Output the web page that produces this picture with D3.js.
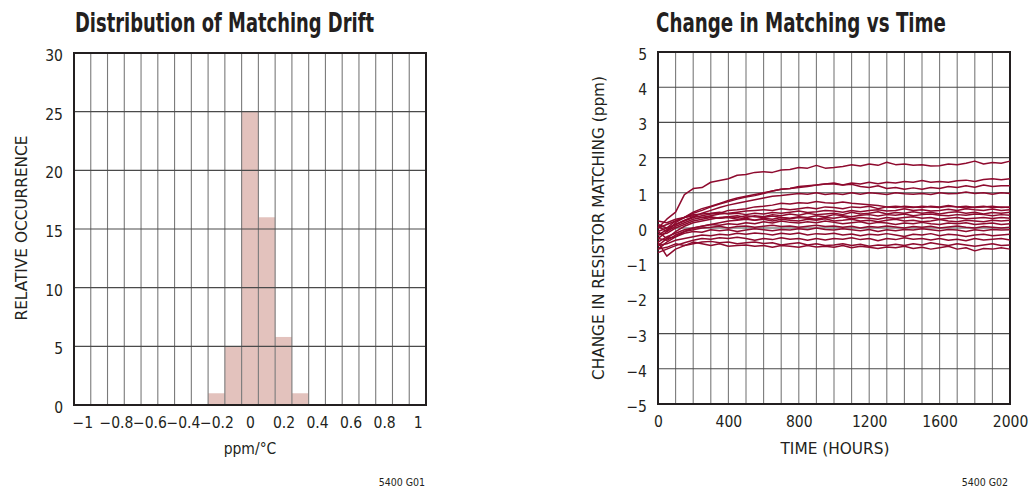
<!DOCTYPE html>
<html>
<head>
<meta charset="utf-8">
<script src="https://cdn.jsdelivr.net/npm/d3@7"></script>
<style>
  body{margin:0;background:#fff;}
  svg{display:block;}
  text{font-family:"Liberation Sans Narrow","DejaVu Sans Condensed","Arial Narrow",sans-serif;fill:#231f20;}
  .title{font-weight:bold;font-size:26px;}
</style>
</head>
<body>
<div id="chart"></div>
<script>
// ---- left panel: distribution of matching drift ----
let binCenters=[-0.2,-0.1,0,0.1,0.2,0.3];
let binCounts=[1,5,25,16,5.8,1];
let driftTicks=[-1,-0.8,-0.6,-0.4,-0.2,0,0.2,0.4,0.6,0.8,1];
let occTicks=[0,5,10,15,20,25,30];

// ---- right panel: change in matching vs time ----
let hours=d3.range(0,2001,50);
let hourTicks=[0,400,800,1200,1600,2000];
let ppmTicks=[-5,-4,-3,-2,-1,0,1,2,3,4,5];
let s1=[0.0,0.25,0.45,0.95,1.12,1.15,1.3,1.35,1.4,1.5, 1.52,1.58,1.6,1.58,1.65,1.66,1.72,1.7,1.78,1.7, 1.72,1.75,1.8,1.76,1.82,1.78,1.87,1.8,1.82,1.78, 1.8,1.76,1.77,1.82,1.8,1.84,1.9,1.82,1.86,1.84, 1.9];
let s2=[0.05,-0.1,0.15,0.3,0.45,0.55,0.62,0.7,0.78,0.85, 0.9,0.95,1.0,1.05,1.1,1.12,1.18,1.2,1.22,1.25, 1.25,1.22,1.28,1.25,1.3,1.26,1.3,1.28,1.32,1.3, 1.35,1.3,1.32,1.3,1.34,1.36,1.32,1.38,1.4,1.37, 1.4];
let s3=[0.1,0.0,0.2,0.3,0.42,0.5,0.6,0.68,0.75,0.82, 0.88,0.92,0.98,1.05,1.1,1.12,1.15,1.18,1.22,1.25, 1.28,1.22,1.24,1.18,1.15,1.2,1.12,1.15,1.1,1.14, 1.1,1.15,1.12,1.18,1.15,1.2,1.16,1.22,1.18,1.2, 1.2];
let s4=[-0.2,-0.05,0.1,0.22,0.32,0.42,0.5,0.58,0.65,0.7, 0.75,0.8,0.85,0.9,0.92,0.95,0.98,0.96,1.0,0.95, 0.98,0.95,1.0,0.96,1.0,0.98,0.95,1.0,0.97,0.96, 0.98,0.95,1.0,0.97,0.98,1.02,0.98,1.0,0.96,1.0, 0.98];
let s5=[-0.1,0.0,0.1,0.2,0.3,0.35,0.4,0.42,0.5,0.52, 0.55,0.6,0.62,0.65,0.7,0.68,0.72,0.7,0.75,0.72, 0.7,0.74,0.7,0.68,0.66,0.64,0.6,0.62,0.6,0.58, 0.62,0.6,0.58,0.62,0.6,0.57,0.6,0.62,0.58,0.6, 0.58];
let s6=[-0.3,-0.1,0.05,0.15,0.25,0.3,0.35,0.4,0.42,0.45, 0.48,0.5,0.52,0.5,0.55,0.52,0.55,0.58,0.55,0.6, 0.58,0.55,0.6,0.58,0.62,0.55,0.6,0.58,0.62,0.6, 0.58,0.62,0.6,0.64,0.6,0.62,0.58,0.6,0.62,0.58, 0.6];
let s7=[0.0,0.1,0.2,0.3,0.38,0.4,0.42,0.45,0.4,0.42, 0.38,0.42,0.4,0.44,0.42,0.45,0.48,0.44,0.46,0.5, 0.48,0.45,0.5,0.46,0.5,0.52,0.48,0.5,0.55,0.5, 0.52,0.48,0.5,0.53,0.5,0.55,0.52,0.5,0.54,0.5, 0.52];
let s8=[-0.5,-0.3,-0.1,0.05,0.15,0.2,0.25,0.3,0.32,0.35, 0.3,0.35,0.32,0.38,0.35,0.4,0.36,0.42,0.38,0.4, 0.42,0.38,0.45,0.4,0.42,0.46,0.4,0.44,0.42,0.46, 0.42,0.45,0.4,0.44,0.46,0.42,0.45,0.4,0.44,0.42, 0.45];
let s9=[-0.2,-0.15,0.0,0.1,0.2,0.25,0.3,0.28,0.32,0.3, 0.35,0.32,0.3,0.34,0.3,0.28,0.32,0.3,0.35,0.32, 0.38,0.35,0.32,0.36,0.38,0.34,0.38,0.36,0.4,0.35, 0.38,0.4,0.36,0.35,0.38,0.36,0.4,0.38,0.35,0.38, 0.36];
let s10=[-0.6,-0.4,-0.25,-0.1,0.0,0.05,0.1,0.15,0.2,0.22, 0.25,0.22,0.28,0.25,0.3,0.26,0.3,0.28,0.25,0.3, 0.28,0.32,0.26,0.3,0.28,0.25,0.3,0.27,0.3,0.32, 0.28,0.3,0.25,0.28,0.3,0.26,0.28,0.3,0.27,0.3, 0.28];
let s11=[0.2,0.15,0.25,0.3,0.35,0.3,0.32,0.28,0.3,0.25, 0.28,0.22,0.25,0.2,0.25,0.22,0.2,0.25,0.22,0.26, 0.2,0.22,0.25,0.2,0.22,0.18,0.22,0.25,0.2,0.22, 0.18,0.2,0.24,0.2,0.18,0.22,0.2,0.18,0.22,0.2, 0.22];
let s12=[-0.4,-0.25,-0.15,-0.05,0.0,0.05,0.1,0.08,0.12,0.1, 0.15,0.12,0.18,0.14,0.2,0.16,0.14,0.18,0.15,0.2, 0.16,0.12,0.15,0.18,0.12,0.16,0.14,0.1,0.14,0.12, 0.16,0.12,0.1,0.14,0.12,0.15,0.1,0.12,0.14,0.1, 0.12];
let s13=[-0.3,-0.35,-0.2,-0.1,-0.05,0.0,0.02,0.05,0.0,0.04, 0.06,0.02,0.05,0.08,0.04,0.06,0.02,0.05,0.08,0.04, 0.06,0.02,0.05,0.0,0.04,0.02,0.06,0.03,0.0,0.04, 0.02,0.05,0.0,0.03,0.06,0.02,0.0,0.04,0.02,0.0, 0.02];
let s14=[-0.1,-0.3,-0.25,-0.15,-0.1,-0.12,-0.05,-0.08,-0.05,-0.1, -0.06,-0.02,-0.05,-0.08,-0.04,-0.06,-0.02,-0.05,0.0,-0.04, -0.06,-0.02,-0.05,-0.08,-0.04,-0.1,-0.05,-0.08,-0.04,-0.06, -0.02,-0.05,-0.08,-0.04,-0.06,-0.1,-0.05,-0.08,-0.04,-0.06, -0.05];
let s15=[-0.5,-0.45,-0.35,-0.3,-0.25,-0.2,-0.22,-0.18,-0.2,-0.15, -0.18,-0.14,-0.16,-0.2,-0.15,-0.18,-0.14,-0.2,-0.16,-0.18, -0.15,-0.2,-0.17,-0.22,-0.18,-0.2,-0.16,-0.2,-0.24,-0.18, -0.2,-0.16,-0.22,-0.18,-0.2,-0.24,-0.2,-0.18,-0.22,-0.2, -0.18];
let s16=[-0.7,-0.6,-0.5,-0.42,-0.35,-0.3,-0.32,-0.28,-0.3,-0.26, -0.3,-0.35,-0.3,-0.33,-0.28,-0.32,-0.3,-0.35,-0.3,-0.34, -0.3,-0.32,-0.28,-0.33,-0.3,-0.36,-0.3,-0.33,-0.28,-0.32, -0.3,-0.34,-0.3,-0.35,-0.32,-0.36,-0.3,-0.34,-0.32,-0.3, -0.34];
let s17=[-0.4,-0.8,-0.6,-0.5,-0.45,-0.4,-0.38,-0.42,-0.4,-0.45, -0.42,-0.4,-0.44,-0.42,-0.48,-0.45,-0.42,-0.48,-0.45,-0.5, -0.48,-0.45,-0.5,-0.46,-0.52,-0.48,-0.5,-0.46,-0.5,-0.45, -0.48,-0.42,-0.46,-0.5,-0.45,-0.48,-0.52,-0.48,-0.45,-0.5, -0.48];
let s18=[-0.6,-0.55,-0.45,-0.5,-0.4,-0.45,-0.5,-0.45,-0.52,-0.5, -0.48,-0.52,-0.5,-0.55,-0.5,-0.52,-0.55,-0.5,-0.54,-0.52, -0.55,-0.5,-0.56,-0.52,-0.55,-0.58,-0.54,-0.56,-0.52,-0.58, -0.55,-0.6,-0.56,-0.52,-0.6,-0.56,-0.65,-0.58,-0.6,-0.56, -0.6];
let driftSeries=[s1,s2,s3,s4,s5,s6,s7,s8,s9,s10,s11,s12,s13,s14,s15,s16,s17,s18];

(function(){
    let W=1031,H=489;
    let svg=d3.select("#chart").append("svg").attr("width",W).attr("height",H);
    let fmt=d3.format("~f");

    function styleAxis(g,size){
        g.select(".domain").remove();
        g.selectAll("text").attr("font-size",size).attr("fill","#231f20")
            .style("font-family",'"Liberation Sans Narrow","DejaVu Sans Condensed",sans-serif');
    }
    function grid(g,xs,ys,xv,yv){
        let x0=xs.range()[0],x1=xs.range()[1],y0=ys.range()[0],y1=ys.range()[1];
        g.selectAll(".vg").data(xv).join("line")
            .attr("x1",d=>xs(d)).attr("x2",d=>xs(d)).attr("y1",y0).attr("y2",y1)
            .attr("stroke","#7a7a7a").attr("stroke-width",1.1);
        g.selectAll(".hg").data(yv).join("line")
            .attr("x1",x0).attr("x2",x1).attr("y1",d=>ys(d)).attr("y2",d=>ys(d))
            .attr("stroke","#4a4a4a").attr("stroke-width",1.1);
        g.append("rect").attr("x",x0).attr("y",y1).attr("width",x1-x0).attr("height",y0-y1)
            .attr("fill","none").attr("stroke","#231f20").attr("stroke-width",2);
    }

    // ---------- left ----------
    let xL=d3.scaleLinear().domain([-1.05,1.05]).range([74,426]);
    let yL=d3.scaleLinear().domain([0,30]).range([405,53]);
    let left=svg.append("g");
    left.selectAll("rect.bar").data(binCenters).join("rect")
        .attr("class","bar")
        .attr("x",d=>xL(d-0.05)).attr("width",d=>xL(d+0.05)-xL(d-0.05))
        .attr("y",(d,i)=>yL(binCounts[i])).attr("height",(d,i)=>yL(0)-yL(binCounts[i]))
        .attr("fill","#e3c2bd");
    //bin edges sit half way between the tick values
    let vEdges=d3.range(-19,21,2).map(k=>k/20);
    grid(left.append("g"),xL,yL,vEdges,d3.range(5,30,5));
    left.append("g").attr("transform","translate(0,405)")
        .call(d3.axisBottom(xL).tickValues(driftTicks).tickSize(0).tickPadding(12).tickFormat(fmt))
        .call(g=>styleAxis(g,15.5));
    left.append("g").attr("transform","translate(74,0)")
        .call(d3.axisLeft(yL).tickValues(occTicks).tickSize(0).tickPadding(11))
        .call(g=>{styleAxis(g,15.5);g.selectAll("text").attr("dy","0.48em");});
    svg.append("text").attr("class","title").attr("x",75).attr("y",32)
        .attr("textLength",299).attr("lengthAdjust","spacingAndGlyphs")
        .text("Distribution of Matching Drift");
    svg.append("text").attr("x",250).attr("y",454).attr("text-anchor","middle")
        .attr("font-size",15.5).text("ppm/°C");
    svg.append("text").attr("transform","translate(27,228) rotate(-90)").attr("text-anchor","middle")
        .attr("font-size",15.5).attr("textLength",185).attr("lengthAdjust","spacingAndGlyphs")
        .text("RELATIVE OCCURRENCE");
    svg.append("text").attr("x",425).attr("y",486).attr("text-anchor","end")
        .attr("font-size",10.5).text("5400 G01");

    // ---------- right ----------
    let xR=d3.scaleLinear().domain([0,2000]).range([658,1010]);
    let yR=d3.scaleLinear().domain([-5,5]).range([404,52]);
    let right=svg.append("g");
    grid(right.append("g"),xR,yR,d3.range(100,2000,100),d3.range(-4,5,1));
    let line=d3.line().x((d,i)=>xR(hours[i])).y(d=>yR(d));
    right.append("g").selectAll("path").data(driftSeries).join("path")
        .attr("d",line).attr("fill","none")
        .attr("stroke","#8e0a2e").attr("stroke-width",1.5).attr("stroke-linejoin","round");
    right.append("g").attr("transform","translate(0,404)")
        .call(d3.axisBottom(xR).tickValues(hourTicks).tickSize(0).tickPadding(12).tickFormat(d3.format("d")))
        .call(g=>styleAxis(g,15.5));
    right.append("g").attr("transform","translate(658,0)")
        .call(d3.axisLeft(yR).tickValues(ppmTicks).tickSize(0).tickPadding(11))
        .call(g=>{styleAxis(g,15.5);g.selectAll("text").attr("dy","0.48em");});
    svg.append("text").attr("class","title").attr("x",656).attr("y",32)
        .attr("textLength",290).attr("lengthAdjust","spacingAndGlyphs")
        .text("Change in Matching vs Time");
    svg.append("text").attr("x",835).attr("y",454).attr("text-anchor","middle")
        .attr("font-size",15.5).attr("textLength",109).attr("lengthAdjust","spacingAndGlyphs")
        .text("TIME (HOURS)");
    svg.append("text").attr("transform","translate(604,228) rotate(-90)").attr("text-anchor","middle")
        .attr("font-size",15.5).attr("textLength",304).attr("lengthAdjust","spacingAndGlyphs")
        .text("CHANGE IN RESISTOR MATCHING (ppm)");
    svg.append("text").attr("x",1008).attr("y",486).attr("text-anchor","end")
        .attr("font-size",10.5).text("5400 G02");
})();
</script>
</body>
</html>
